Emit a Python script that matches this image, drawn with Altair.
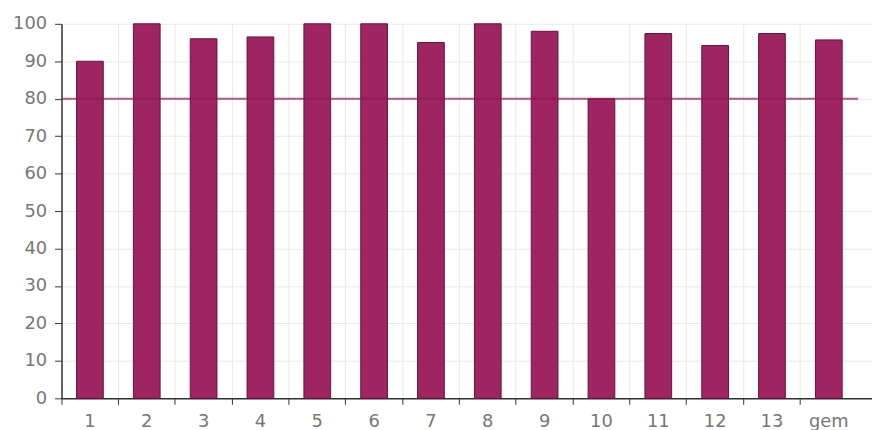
import altair as alt
import pandas as pd

categories = ["1", "2", "3", "4", "5", "6", "7", "8", "9", "10", "11", "12", "13", "gem"]
values = [90, 100, 96, 96.5, 100, 100, 95, 100, 98, 80, 97.4, 94.2, 97.4, 95.7]
threshold = [80]
y_ticks = list(range(0, 101, 10))

df = pd.DataFrame({"cat": categories, "val": values})
thr = pd.DataFrame({"t": threshold})

W = 818
H = 378

y_axis = alt.Axis(
    title=None,
    values=y_ticks,
    tickCount=11,
    grid=True,
    gridColor="#e9e9e9",
    gridWidth=1,
    domainColor="#333333",
    domainWidth=1.5,
    tickColor="#333333",
    tickSize=7,
    labelPadding=8,
    labelFont="DejaVu Sans",
    labelFontSize=18,
    labelColor="#777777",
    labelOverlap=False,
)
y_scale = alt.Scale(domain=[0, 100])

bars = alt.Chart(df).mark_bar(
    width={"band": 0.47}, fill="#9e2462", stroke="#6a1038", strokeWidth=1
).encode(
    x=alt.X(
        "cat:N",
        sort=categories,
        scale=alt.Scale(paddingInner=0, paddingOuter=0.13, align=0),
        axis=alt.Axis(
            title=None,
            labelAngle=0,
            bandPosition=0,
            grid=True,
            gridColor="#e9e9e9",
            gridWidth=1,
            domainColor="#333333",
            domainWidth=1.5,
            tickColor="#333333",
            tickSize=6,
            labelPadding=8,
            labelFont="DejaVu Sans",
            labelFontSize=18,
            labelColor="#777777",
            labelOverlap=False,
        ),
    ),
    y=alt.Y("val:Q", scale=y_scale, axis=y_axis),
)

rule = alt.Chart(thr).mark_rule(color="#8a1a52", opacity=0.7, strokeWidth=2).encode(
    y=alt.Y("t:Q", scale=y_scale, axis=y_axis), x=alt.value(0), x2=alt.value(804)
)

chart = alt.layer(bars, rule).properties(
    width=W,
    height=H,
    autosize=alt.AutoSizeParams(type="none"),
    padding={"left": 54, "top": 14, "right": 0, "bottom": 30},
).configure_view(stroke=None)

chart.save("out.html", embed_options={"renderer": "svg", "actions": False})
